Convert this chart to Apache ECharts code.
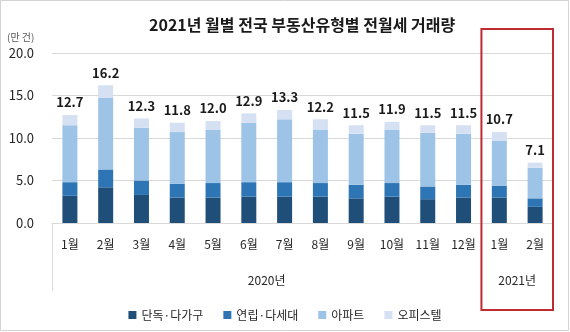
<!DOCTYPE html>
<html>
<head>
<meta charset="utf-8">
<script src="https://cdn.jsdelivr.net/npm/echarts@6/dist/echarts.min.js"></script>
<style>
html,body{margin:0;padding:0;background:#fff;}
#chart{width:570px;height:332px;}
</style>
</head>
<body>
<div id="chart"></div>
<script>
const months = ['1월','2월','3월','4월','5월','6월','7월','8월','9월','10월','11월','12월','1월','2월'];
const yearLabels = ['2020년','2021년'];
const seriesNames = ['단독·다가구','연립·다세대','아파트','오피스텔'];
const detached = [3.2,4.2,3.3,3.0,3.0,3.1,3.1,3.1,2.9,3.1,2.8,3.0,3.0,1.9];
const rowhouse = [1.6,2.1,1.7,1.6,1.7,1.7,1.7,1.6,1.6,1.6,1.5,1.5,1.4,1.0];
const apartment = [6.7,8.4,6.2,6.1,6.3,7.0,7.4,6.3,6.0,6.3,6.3,6.0,5.3,3.6];
const officetel = [1.2,1.5,1.1,1.1,1.0,1.1,1.1,1.2,1.0,0.9,0.9,1.0,1.0,0.6];
const totals = [12.7,16.2,12.3,11.8,12.0,12.9,13.3,12.2,11.5,11.9,11.5,11.5,10.7,7.1];
const yTicks = [0,5,10,15,20];

const FONT = "'Noto Sans CJK KR', 'Noto Sans', sans-serif";
const colors = ['#1f4e79','#2e75b6','#9dc3e6','#d6e0f3'];
const chart = echarts.init(document.getElementById('chart'));

const values = [detached, rowhouse, apartment, officetel];
const series = seriesNames.map((name, i) => ({
  name: name,
  type: 'bar',
  stack: 'total',
  barWidth: 15,
  xAxisIndex: 0,
  itemStyle: {color: colors[i]},
  emphasis: {disabled: true},
  data: values[i],
  label: i === 3 ? {
    show: true,
    position: 'top',
    distance: 6,
    formatter: p => totals[p.dataIndex].toFixed(1),
    fontFamily: FONT,
    fontSize: 13,
    fontWeight: 'bold',
    color: '#1a1a1a'
  } : {show: false}
}));

chart.setOption({
  animation: false,
  textStyle: {fontFamily: FONT},
  title: {
    text: '2021년 월별 전국 부동산유형별 전월세 거래량',
    left: 149,
    top: 17,
    padding: 0,
    textStyle: {fontFamily: FONT, fontSize: 16, fontWeight: 'bold', color: '#1a1a1a'}
  },
  legend: {
    top: 304,
    left: 'center',
    icon: 'rect',
    itemWidth: 8,
    itemHeight: 8,
    itemGap: 20,
    data: seriesNames,
    textStyle: {fontFamily: FONT, fontSize: 12, color: '#262626'}
  },
  grid: {left: 52, right: 17, top: 53, bottom: 109},
  xAxis: [{
    type: 'category',
    data: months,
    axisLine: {lineStyle: {color: '#d9d9d9'}},
    axisTick: {show: false},
    axisLabel: {fontFamily: FONT, fontSize: 12, color: '#262626', margin: 15, interval: 0}
  }, {
    type: 'value',
    position: 'bottom',
    min: 0,
    max: 14,
    interval: 1,
    axisLine: {show: false},
    splitLine: {show: false},
    axisTick: {show: true, customValues: [0, 12], length: 68, lineStyle: {color: '#d9d9d9'}},
    axisLabel: {
      customValues: [6, 13],
      margin: 51,
      fontFamily: FONT, fontSize: 12, color: '#262626',
      formatter: v => (v === 6 ? yearLabels[0] : (v === 13 ? yearLabels[1] : ''))
    }
  }],
  yAxis: {
    type: 'value',
    min: 0,
    max: 20,
    interval: 5,
    axisLine: {show: false},
    axisTick: {show: false},
    splitLine: {lineStyle: {color: '#d9d9d9'}},
    axisLabel: {fontFamily: FONT, fontSize: 13, color: '#262626', margin: 18, formatter: v => v.toFixed(1)}
  },
  series: series
});

const x0 = chart.convertToPixel({xAxisIndex: 1}, 12);
const x1 = chart.convertToPixel({xAxisIndex: 1}, 14);
chart.setOption({
  graphic: [
    {type: 'rect', shape: {x: 0.5, y: 0.5, width: 568, height: 330}, style: {fill: 'none', stroke: '#d4d4d4', lineWidth: 1}, silent: true},
    {type: 'rect', shape: {x: x0, y: 29, width: x1 - x0, height: 281}, style: {fill: 'none', stroke: '#bf2b30', lineWidth: 2}, silent: true, z: 100},
    {type: 'text', left: 7, top: 32, style: {text: '(만 건)', fontFamily: FONT, fontSize: 10, fill: '#595959'}, silent: true}
  ]
});
</script>
</body>
</html>
